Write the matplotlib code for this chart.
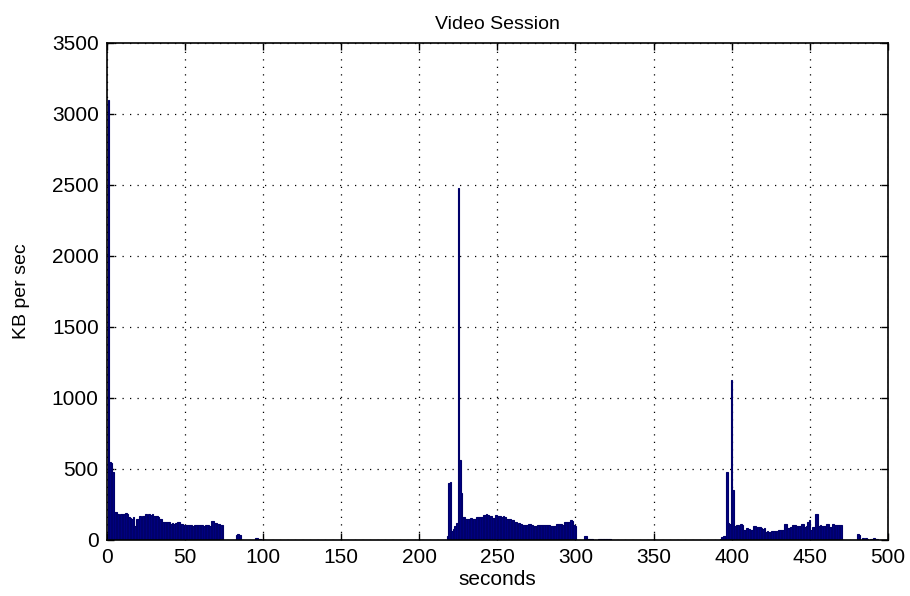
import matplotlib
matplotlib.use('Agg')
import matplotlib.pyplot as plt
import numpy as np

# per-second throughput (seconds start at 1)
n_seconds = 500

burst1_start = 1
burst1 = [3100, 550, 540, 480, 200, 195, 180, 175, 185, 180,
          186, 190, 180, 160, 155, 150, 160, 100, 150, 145,
          170, 165, 172, 168, 180, 175, 182, 178, 180, 172,
          170, 168, 165, 150, 148, 128, 130, 125, 130, 128,
          116, 118, 115, 118, 128, 126, 109, 110, 108, 104,
          102, 105, 103, 104, 100, 106, 104, 102, 105, 103,
          104, 101, 105, 104, 103, 100, 135, 132, 120, 118,
          115, 111, 108, 105]

tail1_start = 83
tail1 = [35, 40, 35, 0, 0, 0, 0, 0, 0, 0, 0, 0, 15, 12, 0, 10]

burst2_start = 218
burst2 = [30, 400, 410, 60, 80, 100, 120, 2480, 560, 330,
          162, 160, 150, 150, 148, 152, 150, 145, 150, 162,
          160, 165, 162, 178, 175, 180, 176, 170, 168, 155,
          155, 174, 172, 170, 167, 165, 168, 160, 150, 148,
          150, 139, 138, 128, 126, 116, 118, 115, 104, 106,
          102, 104, 111, 110, 108, 100, 98, 100, 104, 102,
          105, 103, 104, 102, 105, 103, 100, 98, 101, 100,
          111, 109, 112, 110, 108, 128, 125, 130, 127, 139,
          135, 104, 100]

tail2_start = 306
tail2 = [30, 25, 10, 8, 10, 6, 0, 0, 0, 8, 6, 8, 7, 6, 8, 5, 6]

burst3_start = 393
burst3 = [10, 20, 30, 30, 480, 120, 110, 1125, 350, 100,
          104, 104, 70, 109, 108, 70, 72, 81, 80, 70,
          72, 97, 95, 93, 92, 94, 81, 80, 82, 58,
          60, 57, 58, 65, 66, 64, 65, 70, 72, 68,
          70, 116, 115, 86, 85, 88, 104, 103, 105, 100,
          98, 100, 109, 110, 93, 95, 128, 140, 70, 93,
          92, 186, 185, 100, 102, 97, 96, 98, 109, 110,
          93, 94, 109, 108, 104, 105, 103, 104]

tail3_start = 481
tail3 = [40, 35, 0, 12, 10, 12, 8, 0, 10, 8, 12, 10, 6]

segments = [(burst1_start, burst1), (tail1_start, tail1),
            (burst2_start, burst2), (tail2_start, tail2),
            (burst3_start, burst3), (tail3_start, tail3)]

seconds = np.arange(1, n_seconds + 1)
kb_per_sec = np.zeros(n_seconds)
for start, seg in segments:
    kb_per_sec[start - 1:start - 1 + len(seg)] = seg

plt.rcParams['font.family'] = ['Liberation Sans', 'DejaVu Sans']

fig = plt.figure(figsize=(9.1, 5.96), dpi=100)
ax = fig.add_axes([0.1176, 0.094, 0.858, 0.834])

# MATLAB-style bars: dark edge makes thin spikes look a bit thicker
ax.bar(seconds, kb_per_sec, width=1.0, color='#000084',
       edgecolor='#00006a', linewidth=0.8)

ax.set_xlim(0, 500)
ax.set_ylim(0, 3500)
ax.set_xticks(np.arange(0, 501, 50))
ax.set_yticks(np.arange(0, 3501, 500))
ax.grid(True, color='black', linestyle=(0, (1, 5)), linewidth=0.9)
ax.set_axisbelow(True)
ax.tick_params(direction='in', top=True, right=True, length=5,
               labelsize=15, width=1, pad=6)
for side in ax.spines.values():
    side.set_linewidth(1.2)

ax.set_title('Video Session', fontsize=14, pad=10)
ax.set_xlabel('seconds', fontsize=15, labelpad=2)
ax.set_ylabel('KB per sec', fontsize=14, labelpad=16)

fig.savefig('out.png', dpi=100)
